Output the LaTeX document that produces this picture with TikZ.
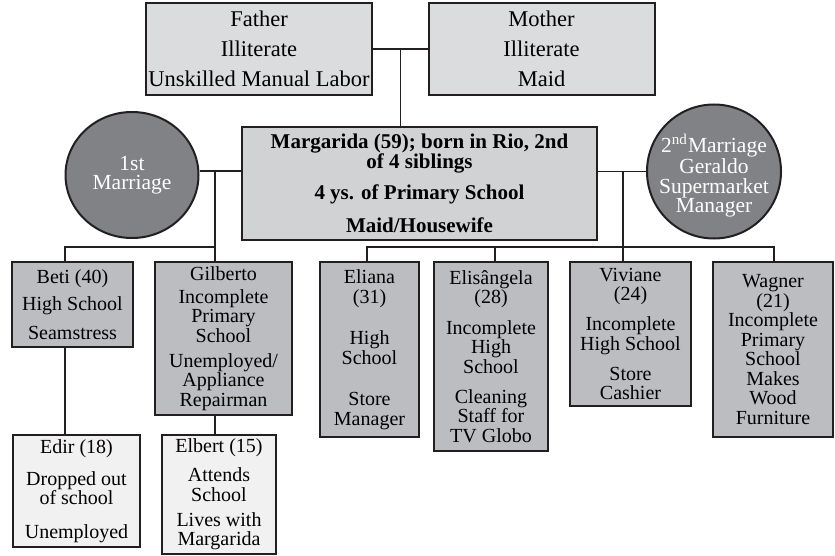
\documentclass[tikz,border=0pt]{standalone}
\usepackage{fontspec}
\setmainfont{Liberation Serif}
\usetikzlibrary{shapes.geometric,calc}
\definecolor{boxline}{HTML}{231F20}
\definecolor{eldergray}{HTML}{DBDCDD}
\definecolor{focusgray}{HTML}{D1D2D4}
\definecolor{childgray}{HTML}{BCBDC0}
\definecolor{grandgray}{HTML}{F1F1F2}
\definecolor{marriagegray}{HTML}{808285}
\begin{document}
\begin{tikzpicture}[
    x=0.5pt,y=-0.5pt,
    person/.style={draw=boxline,line width=1pt,inner sep=0pt,align=center,font=\fontsize{10}{9.75}\selectfont},
    elder/.style={person,fill=eldergray,minimum width=113pt,minimum height=46pt,font=\fontsize{11.25}{15}\selectfont},
    focus/.style={person,fill=focusgray,font=\fontsize{10.5}{10}\selectfont\bfseries},
    child/.style={person,fill=childgray},
    grandchild/.style={person,fill=grandgray},
    marriage/.style={ellipse,draw=boxline,line width=1pt,fill=marriagegray,inner sep=0pt},
    marriagetext/.style={text=white,align=center,inner sep=0pt,font=\fontsize{10.75}{9.75}\selectfont},
    link/.style={line width=0.75pt,draw=boxline}
    ]
    \useasboundingbox (0,0) rectangle (835,556);
    \node[elder] (Father) at (259,49) {Father\\Illiterate\\Unskilled Manual Labor};
    \node[elder] (Mother) at (541.5,49) {Mother\\Illiterate\\Maid};
    \node[focus,minimum width=177.5pt,minimum height=56.5pt] (Margarida) at (419.5,183.5)
      {Margarida (59); born in Rio, 2nd\\of 4 siblings\\[5.5pt]4 ys. of Primary School\\[6.5pt]Maid/Housewife};
    \node[marriage,minimum width=66.5pt,minimum height=63pt,
      label={[marriagetext]center:1st\\Marriage}] (FirstMarriage) at (132,175) {};
    \node[marriage,minimum width=67pt,minimum height=67pt,
      label={[marriagetext,yshift=-2pt]center:2\textsuperscript{nd}Marriage\\Geraldo\\Supermarket\\Manager}] (SecondMarriage) at (714,171.5) {};
    \node[child,minimum width=60.5pt,minimum height=42.5pt] (Beti) at (72.5,304.5)
      {Beti (40)\\[3.75pt]High School\\[4.75pt]Seamstress};
    \node[child,minimum width=68.5pt,minimum height=76.5pt] (Gilberto) at (223.5,338.5)
      {Gilberto\\[1.75pt]Incomplete\\Primary\\School\\[2.75pt]Unemployed/\\Appliance\\Repairman};
    \node[child,minimum width=49.5pt,minimum height=87.5pt] (Eliana) at (369.5,349.5)
      {Eliana\\(31)\\[11pt]High\\School\\[11pt]Store\\Manager};
    \node[child,minimum width=57pt,minimum height=94.5pt] (Elisangela) at (491,356.5)
      {Elisângela\\(28)\\[5.5pt]Incomplete\\High\\School\\[5.25pt]Cleaning\\Staff for\\TV Globo};
    \node[child,minimum width=60.5pt,minimum height=72pt] (Viviane) at (630.5,334)
      {Viviane\\(24)\\[5.25pt]Incomplete\\High School\\[5.25pt]Store\\Cashier};
    \node[child,minimum width=60pt,minimum height=87.5pt] (Wagner) at (773,349.5)
      {Wagner\\(21)\\Incomplete\\Primary\\School\\Makes\\Wood\\Furniture};
    \node[grandchild,minimum width=63.5pt,minimum height=56pt] (Edir) at (76.5,491)
      {Edir (18)\\[6.25pt]Dropped out\\of school\\[7.25pt]Unemployed};
    \node[grandchild,minimum width=57pt,minimum height=59.5pt] (Elbert) at (219,494.5)
      {Elbert (15)\\[4.75pt]Attends\\School\\[2.75pt]Lives with\\Margarida};
    \coordinate (parents) at ($(Father.east)!0.5!(Mother.west)$);
    \coordinate (firstjoin) at (215,171);
    \coordinate (secondjoin) at (623,171);
    \coordinate (betistem) at (65,247);
    \coordinate (gilbertostem) at (215,247);
    \coordinate (elianastem) at (367,247);
    \coordinate (elisangelastem) at (495,247);
    \coordinate (vivianestem) at (623,247);
    \coordinate (wagnerstem) at (774,247);
    \draw[link] (Father.east) -- (Mother.west);
    \draw[link] (parents) -- (parents |- Margarida.north);
    \draw[link] (firstjoin -| FirstMarriage.east) -- (firstjoin -| Margarida.west);
    \draw[link] (SecondMarriage.west) -- (SecondMarriage.west -| Margarida.east);
    \draw[link] (firstjoin) -- (gilbertostem);
    \draw[link] (betistem |- Beti.north) -- (betistem) -- (gilbertostem) -- (gilbertostem |- Gilberto.north);
    \draw[link] (secondjoin) -- (vivianestem);
    \draw[link] (elianastem |- Eliana.north) -- (elianastem) -- (wagnerstem) -- (wagnerstem |- Wagner.north);
    \draw[link] (elisangelastem) -- (elisangelastem |- Elisangela.north);
    \draw[link] (vivianestem) -- (vivianestem |- Viviane.north);
    \draw[link] (betistem |- Beti.south) -- (betistem |- Edir.north);
    \draw[link] (gilbertostem |- Gilberto.south) -- (gilbertostem |- Elbert.north);
  \end{tikzpicture}
\end{document}
